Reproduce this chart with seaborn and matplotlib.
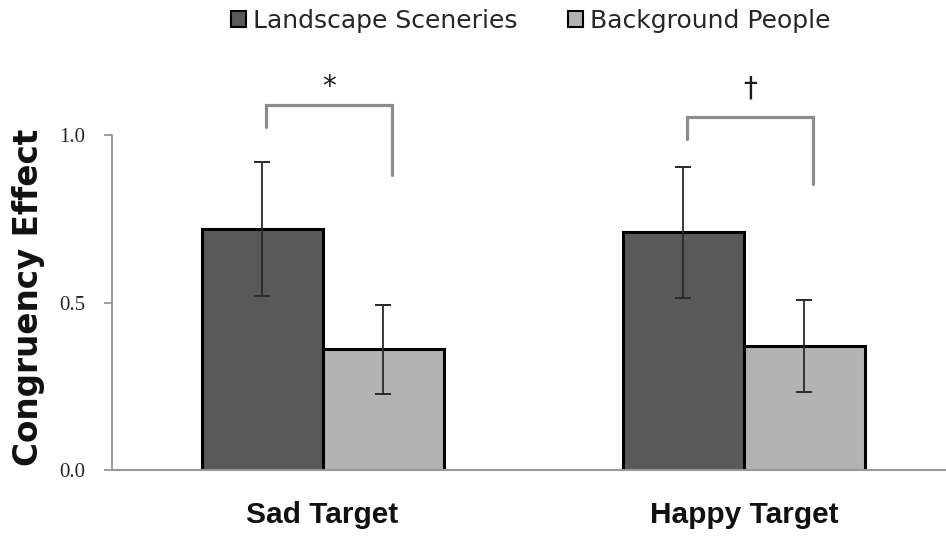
import numpy as np
import pandas as pd
import matplotlib
matplotlib.use("Agg")
import matplotlib.pyplot as plt
import seaborn as sns

# values
targets = ["Sad Target", "Happy Target"]
groups = ["Landscape Sceneries", "Background People"]
landscape = [0.72, 0.71]
background = [0.36, 0.37]
landscape_err = [0.20, 0.195]
background_err = [0.133, 0.138]

# significance brackets (top, left leg end, right leg end, mark)
bracket_top = [1.09, 1.053]
bracket_left = [1.025, 0.99]
bracket_right = [0.88, 0.855]
marks = ["*", "\u2020"]
mark_y = [1.145, 1.14]

df = pd.DataFrame({
    "target": targets * 2,
    "group": [groups[0]] * 2 + [groups[1]] * 2,
    "value": landscape + background,
    "err": landscape_err + background_err,
})

sns.set_style("white")
colors = ["#595959", "#b3b3b3"]

fig = plt.figure(figsize=(9.46, 5.39), dpi=100)
ax = fig.add_axes([0.1184, 0.128, 0.8816, 0.7764])

sns.barplot(data=df, x="target", y="value", hue="group", palette=colors,
            width=0.575, errorbar=None, edgecolor="black", linewidth=2.2,
            ax=ax, legend=False)

# error bars and brackets from the bar positions
centers = {}
for cont, g in zip(ax.containers, groups):
    sub = df[df["group"] == g]
    xs = [b.get_x() + b.get_width() / 2 for b in cont]
    centers[g] = xs
    ax.errorbar(xs, sub["value"], yerr=sub["err"], fmt="none",
                ecolor="#2a2a2a", elinewidth=1.3, capsize=6, capthick=1.4, zorder=5)

for i in range(len(targets)):
    xl = centers[groups[0]][i] + 0.01
    xr = centers[groups[1]][i] + 0.02
    ax.plot([xl, xl, xr, xr], [bracket_left[i], bracket_top[i], bracket_top[i], bracket_right[i]],
            color="#8c8c8c", lw=2.3, solid_joinstyle="miter", clip_on=False)
    ax.text((xl + xr) / 2, mark_y[i], marks[i], ha="center", va="center",
            fontsize=20, color="#1a1a1a")

ax.set_xlim(-0.5, 1.48)
ax.set_ylim(0, 1.25)
ax.set_yticks([0.0, 0.5, 1.0])
ax.set_yticklabels(["0.0", "0.5", "1.0"], family="Liberation Serif", fontsize=15)
ax.tick_params(axis="y", length=6, width=1.2, color="#8c8c8c", pad=13, left=True)
ax.tick_params(axis="x", length=0, pad=22)
for lab in ax.get_xticklabels():
    lab.set_fontfamily(["Liberation Sans Narrow", "Liberation Sans", "DejaVu Sans"])
    lab.set_fontweight("bold")
    lab.set_fontsize(21.5)
    lab.set_color("#111111")

for s in ["top", "right"]:
    ax.spines[s].set_visible(False)
ax.spines["left"].set_bounds(0, 1.0)
ax.spines["left"].set_color("#8c8c8c")
ax.spines["left"].set_linewidth(1.2)
ax.spines["bottom"].set_color("#999999")
ax.spines["bottom"].set_linewidth(1.5)

ax.set_xlabel("")
ax.set_ylabel("Congruency Effect", fontsize=23.5, fontweight="bold", family="DejaVu Sans",
              color="#111111")
ax.yaxis.set_label_coords(-0.080, 0.413)

handles = [plt.Rectangle((0, 0), 1, 1, facecolor=c, edgecolor="black", linewidth=1.5) for c in colors]
fig.legend(handles, groups, loc="upper center", bbox_to_anchor=(0.561, 1.025), ncol=2,
           frameon=False, fontsize=18, handlelength=0.6, handleheight=0.6,
           handletextpad=0.3, columnspacing=2.0)

fig.savefig("out.png", dpi=100)
